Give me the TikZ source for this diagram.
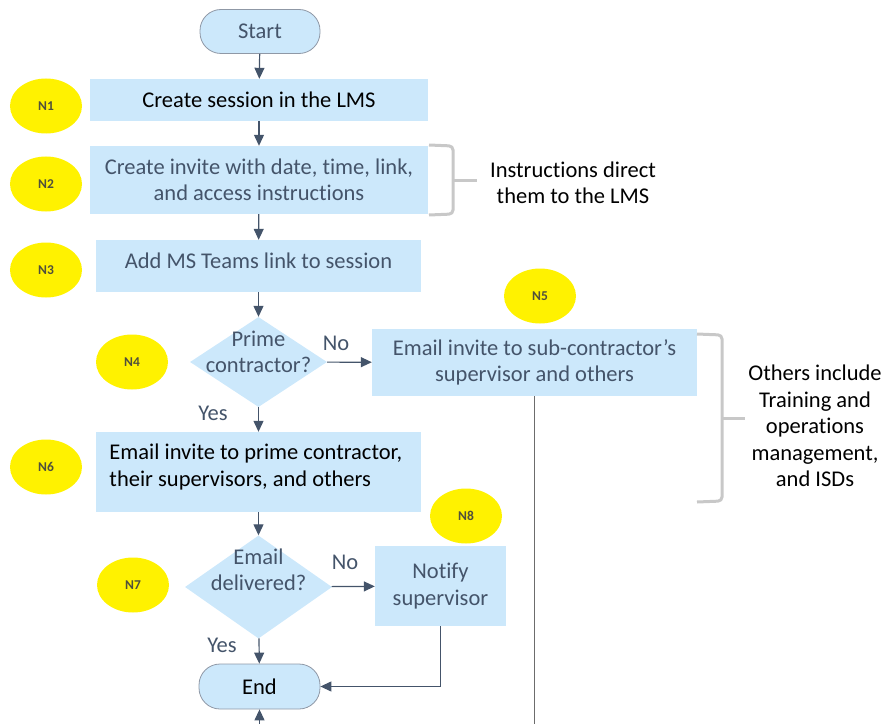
\documentclass[tikz,border=0pt]{standalone}
\usepackage{fontspec}
\setmainfont{Carlito}[Ligatures=NoCommon]
\usetikzlibrary{arrows.meta,shapes.geometric}
\definecolor{boxfill}{HTML}{CCE8FB}
\definecolor{slate}{HTML}{44546A}
\definecolor{linkline}{HTML}{44546A}
\definecolor{bracketgray}{HTML}{C8C8C8}
\definecolor{tagtext}{HTML}{50503C}
\tikzset{
  base/.style={font=\fontsize{22.5bp}{26.5bp}\selectfont, align=center, inner sep=0pt},
  stepbox/.style={base, rectangle, fill=boxfill},
  terminal/.style={base, rectangle, fill=boxfill, draw=slate!60, line width=0.8bp,
    rounded corners=21bp, minimum width=120bp, minimum height=44bp},
  decision/.style={diamond, fill=boxfill, inner sep=0pt},
  tag/.style={ellipse, fill=yellow, minimum width=72bp, minimum height=55bp, inner sep=0pt,
    text=tagtext, font=\fontsize{13.5bp}{15bp}\selectfont\bfseries},
  flow/.style={draw=linkline, line width=1.2bp, -{Triangle[width=10bp,length=11bp]}},
  branch/.style={base, text=slate},
  brace/.style={draw=bracketgray, line width=3bp, rounded corners=4bp},
  note/.style={base, text=black},
}
\begin{document}
\begin{tikzpicture}[x=1bp, y=-1bp]
\useasboundingbox (0,0) rectangle (883,724);

% main column
\node[terminal, text=slate] (start) at (260,31.5) {Start};
\node[stepbox, minimum width=338bp, minimum height=42bp, text=black] (n1) at (259,100) {Create session in the LMS};
\node[stepbox, minimum width=338bp, minimum height=68bp, text=slate] (n2) at (259,180) {Create invite with date, time, link,\\and access instructions};
\node[stepbox, minimum width=325bp, minimum height=52bp] (n3) at (258.5,266) {};
\node[branch] (n3text) at (258.5,261) {Add MS Teams link to session};
\node[decision, minimum width=137bp, minimum height=90bp] (d1) at (258.5,362) {};
\node[branch] (d1text) at (258.5,352) {Prime\\contractor?};
\node[stepbox, minimum width=325bp, minimum height=67bp, text=slate] (n5) at (534.5,362.5) {Email invite to sub-contractor's\\supervisor and others};
\node[stepbox, minimum width=325bp, minimum height=80bp] (n6) at (258.5,472) {};
\node[note] (n6text) at (258.5,467) {\parbox{298bp}{\raggedright Email invite to prime contractor,\\their supervisors, and others}};
\node[decision, minimum width=147bp, minimum height=103bp] (d2) at (258.5,587) {};
\node[branch] (d2text) at (258.5,570) {Email\\delivered?};
\node[stepbox, minimum width=131bp, minimum height=80bp, text=slate] (n8) at (440.5,586) {Notify\\supervisor};
\node[terminal, text=black, minimum width=121bp, minimum height=45bp] (end) at (259.5,686.5) {End};
\coordinate (below) at (259.5,724);
\coordinate (n5foot) at (534.5,724);

% branch labels
\node[branch] (no1) at (336,343) {No};
\node[branch] (yes1) at (213,413) {Yes};
\node[branch] (no2) at (345,562) {No};
\node[branch] (yes2) at (222,645) {Yes};

% connectors
\draw[flow] (start) -- (n1);
\draw[flow] (n1) -- (n2);
\draw[flow] (n2) -- (n3);
\draw[flow] (n3) -- (d1);
\draw[flow] (d1) -- (n5);
\draw[flow] (d1) -- (n6);
\draw[flow] (n6) -- (d2);
\draw[flow] (d2) -- (n8);
\draw[flow] (d2) -- (end);
\draw[flow] (n8.south) |- (end.east);
\draw[flow] (below) -- (end.south);
\draw[draw=gray!85!black, line width=1bp] (n5.south) -- (n5foot);

% side notes with brackets
\draw[brace] (429,145) -- (453,146) -- (453,214) -- (429,215);
\draw[brace] (453,180) -- (477,180);
\node[note] (note1) at (573,183) {Instructions direct\\them to the LMS};
\draw[brace] (697,334) -- (722,335) -- (722,501) -- (697,502);
\draw[brace] (722,418) -- (745,418);
\node[note] (note2) at (815,426) {Others include\\Training and\\operations\\management,\\and ISDs};

% step tags
\node[tag] (t1) at (46,106) {N1};
\node[tag] (t2) at (46,184) {N2};
\node[tag] (t3) at (46,270) {N3};
\node[tag] (t4) at (132,362) {N4};
\node[tag] (t5) at (540,296) {N5};
\node[tag] (t6) at (46,467) {N6};
\node[tag] (t7) at (133,585) {N7};
\node[tag] (t8) at (466,516) {N8};
\end{tikzpicture}
\end{document}
